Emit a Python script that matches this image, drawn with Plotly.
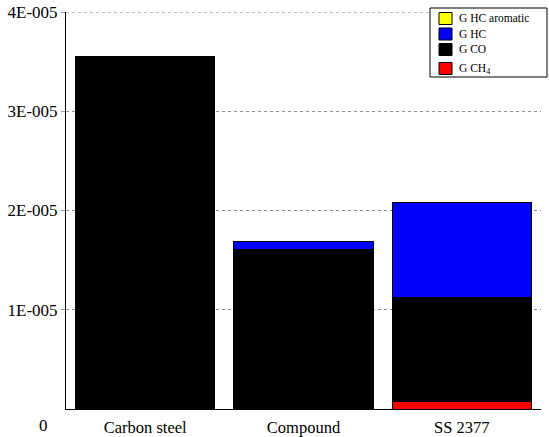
import plotly.graph_objects as go

categories = ["Carbon steel", "Compound", "SS 2377"]
g_ch4 = [0.0, 0.0, 0.08e-5]
g_co = [3.557e-5, 1.612e-5, 1.045e-5]
g_hc = [0.0, 0.071e-5, 0.954e-5]
g_hc_arom = [0.0, 0.0, 0.0]

tick_vals = [1e-5, 2e-5, 3e-5, 4e-5]
tick_text = ["1E-005", "2E-005", "3E-005", "4E-005"]
zero_label = "0"

legend_names = ["G HC aromatic", "G HC", "G CO", "G CH<sub>4</sub>"]
legend_colors = ["#ffff00", "#0000ff", "#000000", "#ff0000"]

font_family = "Liberation Serif, Times New Roman, serif"

# plot area in pixels
L, R, T, B = 66, 541, 12, 409
W, H = 549, 437


def px(x):
    return (x - L) / (R - L)


def py(y):
    return (B - y) / (B - T)


fig = go.Figure()
series = [
    ("G CH<sub>4</sub>", g_ch4, "#ff0000"),
    ("G CO", g_co, "#000000"),
    ("G HC", g_hc, "#0000ff"),
    ("G HC aromatic", g_hc_arom, "#ffff00"),
]
for name, vals, col in series:
    fig.add_trace(go.Bar(
        x=categories, y=vals, name=name, showlegend=False,
        marker=dict(color=col, line=dict(color="#000000", width=1)),
    ))

shapes = []
annotations = []
# top gridline (at the axis range edge)
shapes.append(dict(type="line", xref="paper", yref="y", x0=0, x1=1,
                   y0=tick_vals[-1], y1=tick_vals[-1],
                   line=dict(color="#8c8c8c", width=1, dash="dot"), layer="below"))
# legend box
shapes.append(dict(type="rect", xref="paper", yref="paper",
                   x0=px(430), x1=px(547), y0=py(77), y1=py(8),
                   line=dict(color="#000000", width=1), fillcolor="white", layer="above"))
row_centers = [18.5, 34, 49.5, 68.5]
for name, col, cy in zip(legend_names, legend_colors, row_centers):
    shapes.append(dict(type="rect", xref="paper", yref="paper",
                       x0=px(439), x1=px(452), y0=py(cy + 6), y1=py(cy - 6),
                       line=dict(color="#000000", width=1), fillcolor=col, layer="above"))
    annotations.append(dict(xref="paper", yref="paper", x=px(457), y=py(cy),
                            xanchor="left", yanchor="middle", showarrow=False,
                            text=name, font=dict(family=font_family, size=11.5, color="#000000")))

annotations.append(dict(xref="paper", yref="y", x=px(43), y=0, yshift=-16,
                        xanchor="center", yanchor="middle", showarrow=False,
                        text=zero_label, font=dict(family=font_family, size=17, color="#000000")))

fig.update_layout(
    barmode="stack",
    bargap=0.12,
    width=W, height=H,
    margin=dict(l=L, r=W - R, t=T, b=H - B),
    plot_bgcolor="white", paper_bgcolor="white",
    font=dict(family=font_family, size=16, color="#000000"),
    showlegend=False,
    shapes=shapes,
    annotations=annotations,
    xaxis=dict(
        showline=True, linecolor="#000000", linewidth=1,
        showgrid=False, ticks="", tickfont=dict(size=16.5),
        ticklabelstandoff=3,
        range=[-0.5, 2.5], automargin=False,
    ),
    yaxis=dict(
        range=[0, 4.0005e-5],
        tickvals=tick_vals, ticktext=tick_text,
        showline=True, linecolor="#000000", linewidth=1,
        showgrid=True, gridcolor="#8c8c8c", griddash="dot", gridwidth=1,
        ticks="outside", ticklen=4, tickcolor="#9c9c9c",
        tickfont=dict(size=17),
        zeroline=False, automargin=False,
    ),
)

fig.write_html("out.html", config={"displayModeBar": False},
               post_script="document.body.style.margin='0';document.body.style.padding='0';")
